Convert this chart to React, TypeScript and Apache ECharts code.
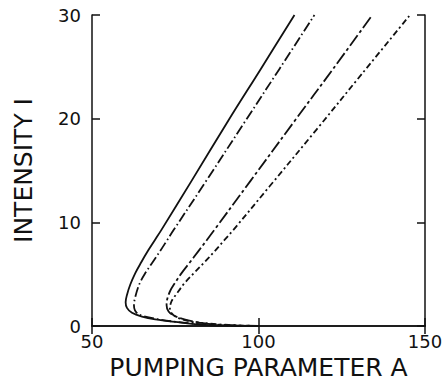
import React, { useEffect, useRef } from "react";
import * as echarts from "echarts";

// [pumping parameter A, intensity I]
const curveSolid: [number, number][] = [
  [100, 0], [92, 0.03], [85, 0.08], [80, 0.2], [75, 0.4], [69, 0.63], [65, 0.9], [62, 1.27],
  [60.5, 1.75], [60.1, 2.3], [60.5, 3.0], [61.5, 4.0], [63.0, 5.1], [64.7, 6.1], [66.9, 7.3],
  [68.9, 8.3], [70.8, 9.25], [79.9, 14], [91.0, 19.85], [100.7, 24.8], [110.8, 30],
];
const curveDashDot: [number, number][] = [
  [100, 0], [92, 0.04], [86, 0.1], [80, 0.25], [74, 0.45], [69, 0.7], [65.5, 0.95], [63.9, 1.15],
  [62.9, 1.5], [62.6, 2.0], [63.0, 2.8], [64.3, 4.1], [66.2, 5.2], [68.1, 6.1], [70.4, 7.2],
  [72.6, 8.3], [74.5, 9.25], [84.3, 14], [96.2, 19.85], [106.3, 24.8], [116.8, 30],
];
const curveLongDash: [number, number][] = [
  [100, 0], [93, 0.05], [87, 0.15], [82, 0.35], [78.9, 0.55], [74.9, 0.95], [73, 1.4], [72.4, 2.0],
  [72.6, 2.6], [73.5, 3.4], [74.8, 4.1], [76.9, 5.1], [79.3, 6.1], [81.9, 7.2], [84.5, 8.3],
  [86.7, 9.25], [97.6, 14], [111.0, 19.85], [122.4, 24.8], [134.2, 30],
];
const curveShortDash: [number, number][] = [
  [100, 0], [94, 0.06], [88, 0.16], [83, 0.3], [79.9, 0.4], [75.9, 0.78], [74, 1.2], [73.4, 1.7],
  [73.9, 2.4], [75.4, 3.1], [77.7, 4.1], [80.6, 5.1], [83.6, 6.1], [86.8, 7.2], [89.8, 8.3],
  [92.4, 9.25], [103.4, 13.5], [117.3, 18.9], [131.0, 24.3], [145.5, 30],
];

const xTitle = "PUMPING PARAMETER A";
const yTitle = "INTENSITY I";

export default function App() {
  const ref = useRef<HTMLDivElement>(null);
  useEffect(() => {
    if (!ref.current) return;
    const chart = echarts.init(ref.current, null, { renderer: "svg" });
    const font = "DejaVu Sans";
    const ink = "#111";
    const axisLine = { show: true, lineStyle: { color: ink, width: 1.5 } };
    const tick = { show: true, inside: true, length: 8, lineStyle: { color: ink, width: 1.5 } };
    const lbl = { color: ink, fontFamily: font, fontSize: 18 };
    const mk = (data: [number, number][], type: any) => ({
      type: "line",
      data,
      symbol: "none",
      smooth: 0.35,
      clip: true,
      lineStyle: { color: ink, width: 1.8, type },
    });
    chart.setOption({
      animation: false,
      backgroundColor: "#fff",
      grid: { left: 92, top: 15, width: 333, height: 311, containLabel: false },
      xAxis: [
        {
          type: "value", min: 50, max: 150, interval: 50, position: "bottom",
          axisLine, axisTick: tick, splitLine: { show: false },
          axisLabel: { ...lbl, margin: 6 },
          name: xTitle, nameLocation: "middle", nameGap: 28,
          nameTextStyle: { color: ink, fontFamily: font, fontSize: 25 },
        },
        {
          type: "value", min: 50, max: 150, interval: 50, position: "top",
          axisLine, axisTick: tick, splitLine: { show: false }, axisLabel: { show: false },
        },
      ],
      yAxis: [
        {
          type: "value", min: 0, max: 30, interval: 10, position: "left",
          axisLine, axisTick: tick, splitLine: { show: false },
          axisLabel: { ...lbl, margin: 11 },
          name: yTitle, nameLocation: "middle", nameGap: 56,
          nameTextStyle: { color: ink, fontFamily: font, fontSize: 25 },
        },
        {
          type: "value", min: 0, max: 30, interval: 10, position: "right",
          axisLine, axisTick: tick, splitLine: { show: false }, axisLabel: { show: false },
        },
      ],
      series: [
        mk(curveSolid, "solid"),
        mk(curveDashDot, [10, 3, 1.5, 3]),
        mk(curveLongDash, [13, 3, 3, 3]),
        mk(curveShortDash, [6, 3, 2, 3]),
      ],
    });
    return () => chart.dispose();
  }, []);
  return (
    <div
      ref={ref}
      style={{ position: "fixed", left: 0, top: 0, width: 446, height: 385, background: "#fff" }}
    />
  );
}
